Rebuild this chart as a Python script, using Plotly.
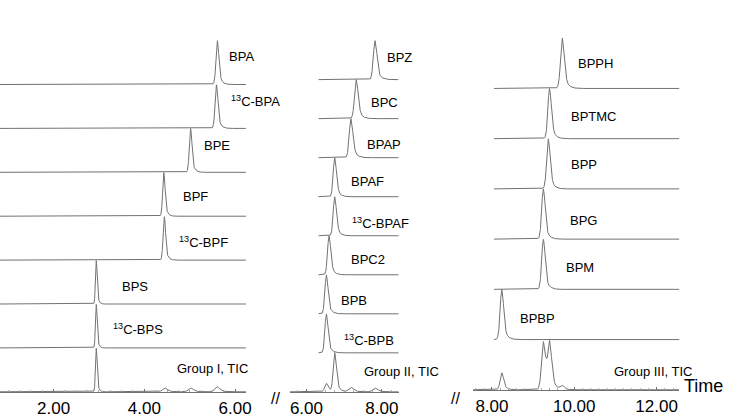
import numpy as np
import plotly.graph_objects as go

# ---------------- data ----------------
# Common peak profile (offset in peak-width units, relative height)
PEAK_OFFSETS = [-2.0, -1.4, -1.0, -0.6, -0.3, 0.0, 0.3, 0.6, 1.0, 1.4, 2.0, 3.0, 4.5]
PEAK_PROFILE = [0.0, 0.02, 0.12, 0.45, 0.85, 1.0, 0.88, 0.6, 0.28, 0.12, 0.05, 0.015, 0.0]

# Group I (bottom to top)
G1_NAMES = ["Group I, TIC", "<sup>13</sup>C-BPS", "BPS", "<sup>13</sup>C-BPF", "BPF",
            "BPE", "<sup>13</sup>C-BPA", "BPA"]
G1_RT = [[2.94, 4.45, 5.02, 5.60], [2.94], [2.94], [4.44], [4.43], [5.02], [5.59], [5.61]]
G1_HEIGHT = [[1.0, 0.09, 0.09, 0.12], [1.0], [1.0], [1.0], [1.0], [1.0], [1.0], [1.0]]
G1_WIDTH = [[0.035, 0.1, 0.1, 0.1], [0.035], [0.035], [0.05], [0.05], [0.055], [0.06], [0.06]]

# Group II (bottom to top)
G2_NAMES = ["Group II, TIC", "<sup>13</sup>C-BPB", "BPB", "BPC2", "<sup>13</sup>C-BPAF",
            "BPAF", "BPAP", "BPC", "BPZ"]
G2_RT = [[6.53, 6.75, 7.18, 7.82], [6.53], [6.53], [6.60], [6.75], [6.75], [7.18], [7.32], [7.82]]
G2_HEIGHT = [[0.22, 1.0, 0.12, 0.10], [1.0], [1.0], [1.0], [1.0], [1.0], [1.0], [1.0], [1.0]]
G2_WIDTH = [[0.09, 0.08, 0.12, 0.12], [0.08], [0.08], [0.08], [0.08], [0.08], [0.09], [0.09], [0.09]]

# Group III (bottom to top)
G3_NAMES = ["Group III, TIC", "BPBP", "BPM", "BPG", "BPP", "BPTMC", "BPPH"]
G3_RT = [[8.24, 9.25, 9.40, 9.71], [8.24], [9.25], [9.25], [9.37], [9.40], [9.71]]
G3_HEIGHT = [[0.34, 0.95, 0.90, 0.08], [1.0], [1.0], [1.0], [1.0], [1.0], [1.0]]
G3_WIDTH = [[0.08, 0.09, 0.09, 0.1], [0.08], [0.08], [0.08], [0.08], [0.08], [0.085]]

# ---------------- layout parameters ----------------
W, H = 731, 418
FONT = "Liberation Sans"
LINE = "#727272"

panels = [
    dict(names=G1_NAMES, rt=G1_RT, h=G1_HEIGHT, w=G1_WIDTH,
         dom=[0 / W, 248 / W], xr=[0.82, 6.24], start=0.82, end=6.24,
         ydom=[21 / H, 1], yr=[-0.01, 8.925], minor=0.25,
         labels=[(4.67, 0.54), (3.27, 1.44), (3.46, 2.41), (4.71, 3.42), (4.80, 4.46),
                 (5.28, 5.60), (5.87, 6.62), (5.83, 7.63)]),
    dict(names=G2_NAMES, rt=G2_RT, h=G2_HEIGHT, w=G2_WIDTH,
         dom=[292 / W, 402 / W], xr=[5.553, 8.447], start=6.32, end=8.447,
         ydom=[21 / H, 1], yr=[-0.01, 10.04], minor=0.25,
         labels=[(7.47, 0.53), (6.95, 1.34), (6.87, 2.35), (7.13, 3.39), (7.16, 4.33),
                 (7.13, 5.39), (7.55, 6.35), (7.66, 7.42), (8.08, 8.56)]),
    dict(names=G3_NAMES, rt=G3_RT, h=G3_HEIGHT, w=G3_WIDTH,
         dom=[477 / W, 685 / W], xr=[7.542, 12.554], start=8.05, end=12.554,
         ydom=[23 / H, 1], yr=[-0.01, 7.761], minor=0.2,
         labels=[(10.92, 0.37), (8.63, 1.42), (9.76, 2.44), (9.86, 3.38), (9.88, 4.49),
                 (9.88, 5.45), (10.05, 6.49)]),
]


def signal(x, rts, hs, ws):
    y = np.zeros_like(x)
    for rt, h, w in zip(rts, hs, ws):
        y += h * np.interp((x - rt) / w, PEAK_OFFSETS, PEAK_PROFILE, left=0.0, right=0.0)
    return y


fig = go.Figure()
annotations = []
layout = dict(width=W, height=H, margin=dict(l=0, r=0, t=0, b=0, pad=0),
              paper_bgcolor="white", plot_bgcolor="white", showlegend=False)

for p_i, p in enumerate(panels):
    sfx = "" if p_i == 0 else str(p_i + 1)
    xa, ya = "x" + sfx, "y" + sfx
    for idx, name in enumerate(p["names"]):
        x0 = p["xr"][0] if idx == 0 else p["start"]
        x = np.linspace(x0, p["end"], 1800)
        y = idx + signal(x, p["rt"][idx], p["h"][idx], p["w"][idx])
        fig.add_trace(go.Scatter(x=x, y=y, mode="lines", xaxis=xa, yaxis=ya,
                                 line=dict(color=LINE, width=1), hoverinfo="skip"))
        lx, ly = p["labels"][idx]
        annotations.append(dict(x=lx, y=ly, xref=xa, yref=ya, text=name, showarrow=False,
                                xanchor="left", yanchor="middle",
                                font=dict(family=FONT, size=13, color="black")))
    layout["xaxis" + sfx] = dict(
        domain=p["dom"], range=p["xr"], anchor=ya, showgrid=False, zeroline=False,
        showline=True, linecolor=LINE, linewidth=1,
        tickmode="linear", tick0=0, dtick=2, tickformat=".2f",
        ticks="inside", ticklen=3, tickcolor=LINE,
        minor=dict(ticks="inside", ticklen=2, tickcolor="#aaaaaa", dtick=p["minor"], tick0=0),
        tickfont=dict(family=FONT, size=17, color="black"))
    layout["yaxis" + sfx] = dict(domain=p["ydom"], range=p["yr"], anchor=xa, visible=False,
                                 fixedrange=True)

# axis-break marks and axis title
for bx in (278, 459):
    annotations.append(dict(x=bx / W, y=1 - 403 / H, xref="paper", yref="paper", text="//",
                            showarrow=False, xanchor="center", yanchor="middle",
                            font=dict(family=FONT, size=16, color="black")))
annotations.append(dict(x=688 / W, y=1 - 391 / H, xref="paper", yref="paper", text="Time",
                        showarrow=False, xanchor="left", yanchor="middle",
                        font=dict(family=FONT, size=18, color="black")))

layout["annotations"] = annotations
fig.update_layout(**layout)
fig.write_html("out.html", config={"displayModeBar": False},
               post_script="document.body.style.margin='0px';")
